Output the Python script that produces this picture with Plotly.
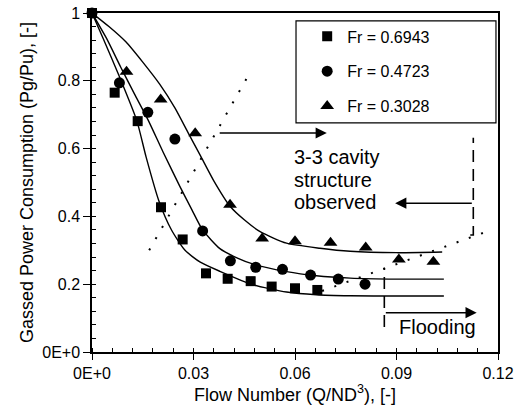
import plotly.graph_objects as go

# ---------------- data ----------------
sq_x = [0.0, 0.0067, 0.0135, 0.0204, 0.0268, 0.0337, 0.0401, 0.0469, 0.0531, 0.0600, 0.0666]
sq_y = [1.0, 0.765, 0.681, 0.427, 0.332, 0.232, 0.216, 0.209, 0.193, 0.188, 0.183]

ci_x = [0.0, 0.0081, 0.0165, 0.0245, 0.0327, 0.0409, 0.0484, 0.0563, 0.0646, 0.0728, 0.0807]
ci_y = [1.0, 0.794, 0.707, 0.628, 0.357, 0.269, 0.250, 0.244, 0.227, 0.215, 0.200]

tr_x = [0.0102, 0.0203, 0.0305, 0.0408, 0.0503, 0.0600, 0.0705, 0.0809, 0.0907, 0.1009]
tr_y = [0.827, 0.745, 0.645, 0.434, 0.335, 0.327, 0.322, 0.308, 0.273, 0.266]

# fitted curves
sq_fit_x = [0, 0.0033, 0.0080, 0.0132, 0.0160, 0.0198, 0.0235, 0.0275, 0.0320, 0.0378, 0.0477, 0.0575, 0.0663, 0.0763, 0.0900, 0.1040]
sq_fit_y = [1, 0.925, 0.815, 0.684, 0.575, 0.445, 0.360, 0.300, 0.265, 0.238, 0.198, 0.177, 0.169, 0.166, 0.165, 0.165]

ci_fit_x = [0, 0.0043, 0.0085, 0.0125, 0.0166, 0.0210, 0.0260, 0.0295, 0.0327, 0.0378, 0.0430, 0.0477, 0.0575, 0.0663, 0.0763, 0.0900, 0.1040]
ci_fit_y = [1, 0.925, 0.840, 0.762, 0.684, 0.590, 0.488, 0.420, 0.360, 0.305, 0.277, 0.259, 0.237, 0.225, 0.218, 0.215, 0.215]

tr_fit_x = [0, 0.0050, 0.0100, 0.0150, 0.0200, 0.0245, 0.0285, 0.0320, 0.0360, 0.0408, 0.0450, 0.0497, 0.0575, 0.0674, 0.0763, 0.0900, 0.1035]
tr_fit_y = [1, 0.960, 0.915, 0.855, 0.790, 0.720, 0.645, 0.580, 0.505, 0.430, 0.390, 0.355, 0.321, 0.306, 0.297, 0.293, 0.295]

# dotted boundary lines
dot1_x = [0.0169, 0.0457]
dot1_y = [0.300, 0.807]
dot2_x = [0.0680, 0.1166]
dot2_y = [0.180, 0.355]

# dashed markers
dash1_x = [0.1118, 0.1127, 0.1127]
dash1_y = [0.345, 0.345, 0.632]
dash2_x = [0.0864, 0.0864]
dash2_y = [0.074, 0.248]

names = ["Fr = 0.6943", "Fr = 0.4723", "Fr = 0.3028"]

x_ticks = [0, 0.03, 0.06, 0.09, 0.12]
x_ticktext = ["0E+0", "0.03", "0.06", "0.09", "0.12"]
y_ticks = [0, 0.2, 0.4, 0.6, 0.8, 1.0]
y_ticktext = ["0E+0", "0.2", "0.4", "0.6", "0.8", "1"]

# annotation arrows: (x_from, x_to, y)
arrow_right = (0.0373, 0.0694, 0.646)
arrow_left = (0.1127, 0.0896, 0.439)
arrow_flood = (0.0864, 0.1137, 0.116)

FONT = "Liberation Sans, Arial, Helvetica, sans-serif"

fig = go.Figure()

for fx, fy in [(sq_fit_x, sq_fit_y), (ci_fit_x, ci_fit_y), (tr_fit_x, tr_fit_y)]:
    fig.add_trace(go.Scatter(x=fx, y=fy, mode="lines", line=dict(color="black", width=1.4, shape="spline", smoothing=0.6),
                             showlegend=False, hoverinfo="skip"))

for dx, dy in [(dot1_x, dot1_y), (dot2_x, dot2_y)]:
    fig.add_trace(go.Scatter(x=dx, y=dy, mode="lines", line=dict(color="black", width=2, dash="2px,11px"),
                             showlegend=False, hoverinfo="skip"))

for dx, dy in [(dash1_x, dash1_y), (dash2_x, dash2_y)]:
    fig.add_trace(go.Scatter(x=dx, y=dy, mode="lines", line=dict(color="black", width=1.6, dash="12px,7px"),
                             showlegend=False, hoverinfo="skip"))

fig.add_trace(go.Scatter(x=sq_x, y=sq_y, mode="markers", name=names[0], legendgroup="a",
                         marker=dict(symbol="square", size=10, color="black"), cliponaxis=False))
fig.add_trace(go.Scatter(x=ci_x, y=ci_y, mode="markers", name=names[1], legendgroup="b",
                         marker=dict(symbol="circle", size=11, color="black"), cliponaxis=False))
fig.add_trace(go.Scatter(x=tr_x, y=tr_y, mode="markers", name=names[2], legendgroup="c",
                         marker=dict(symbol="triangle-up", size=12, color="black"), cliponaxis=False))

for (x0, x1, yy) in [arrow_right, arrow_left, arrow_flood]:
    fig.add_annotation(x=x1, y=yy, ax=x0, ay=yy, xref="x", yref="y", axref="x", ayref="y",
                       text="", showarrow=True, arrowhead=2, arrowsize=1.4, arrowwidth=1.6, arrowcolor="black")

text_x = 0.0591
for txt, yy in [("3-3 cavity", 0.575), ("structure", 0.507), ("observed", 0.442)]:
    fig.add_annotation(x=text_x, y=yy, xref="x", yref="y", text=txt, showarrow=False, xanchor="left",
                       yanchor="middle", font=dict(family=FONT, size=20, color="black"))

fig.add_annotation(x=0.1021, y=0.075, xref="x", yref="y", text="Flooding", showarrow=False,
                   xanchor="center", yanchor="middle", font=dict(family=FONT, size=20, color="black"))

# legend box
fig.add_shape(type="rect", xref="paper", yref="paper", x0=0.5025, x1=0.995, y0=0.676, y1=0.977,
              line=dict(color="black", width=1.2), fillcolor="rgba(0,0,0,0)")

fig.update_layout(
    width=522, height=406,
    margin=dict(l=92, r=24, t=13, b=54, autoexpand=False),
    paper_bgcolor="white", plot_bgcolor="white",
    font=dict(family=FONT, size=16, color="black"),
    showlegend=True,
    legend=dict(x=0.53, y=0.981, xanchor="left", yanchor="top", bgcolor="rgba(0,0,0,0)",
                borderwidth=0, tracegroupgap=11, font=dict(size=16, family=FONT)),
)

fig.update_xaxes(range=[0, 0.12], tickvals=x_ticks, ticktext=x_ticktext, showgrid=False, zeroline=False,
                 showline=True, linecolor="black", linewidth=1.5, mirror=True, automargin=False,
                 ticks="outside", ticklen=6, tickwidth=1.2, tickcolor="black", ticklabeloverflow="allow",
                 minor=dict(dtick=0.006, ticks="inside", ticklen=4, tickcolor="black", tickwidth=1, showgrid=False),
                 title=dict(text="Flow Number (Q/ND<sup>3</sup>), [-]", font=dict(size=18, family=FONT), standoff=0),
                 tickfont=dict(size=16, family=FONT))
fig.update_yaxes(range=[0, 1], tickvals=y_ticks, ticktext=y_ticktext, showgrid=False, zeroline=False,
                 showline=True, linecolor="black", linewidth=1.5, mirror=True, automargin=False,
                 ticks="outside", ticklen=7, tickwidth=1.2, tickcolor="black", ticklabeloverflow="allow",
                 minor=dict(dtick=0.04, ticks="inside", ticklen=4, tickcolor="black", tickwidth=1, showgrid=False),
                 title=dict(text="Gassed Power Consumption (Pg/Pu), [-]", font=dict(size=18, family=FONT), standoff=4),
                 tickfont=dict(size=16, family=FONT))

fig.write_html("out.html", config={"displayModeBar": False},
               post_script="document.body.style.margin='0';")
